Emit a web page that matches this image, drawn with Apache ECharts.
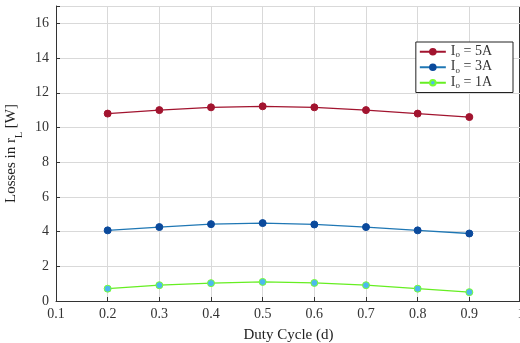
<!DOCTYPE html>
<html><head><meta charset="utf-8">
<script src="https://cdn.jsdelivr.net/npm/echarts@6/dist/echarts.min.js"></script>
<style>html,body{margin:0;padding:0;background:#fff}#c{width:520px;height:343px}</style>
</head><body><div id="c"></div>
<script>
const duty = [0.2, 0.3, 0.4, 0.5, 0.6, 0.7, 0.8, 0.9];
const loss5A = [10.8, 11.0, 11.16, 11.22, 11.16, 11.0, 10.8, 10.6];
const loss3A = [4.07, 4.26, 4.43, 4.49, 4.41, 4.26, 4.07, 3.89];
const loss1A = [0.71, 0.91, 1.03, 1.1, 1.04, 0.91, 0.71, 0.51];
const seriesNames = ['5A', '3A', '1A'];
const xTicks = [0.1, 0.2, 0.3, 0.4, 0.5, 0.6, 0.7, 0.8, 0.9, 1];

const FONT = 'Liberation Serif';
const chart = echarts.init(document.getElementById('c'), null, {renderer: 'canvas'});
function pairs(v) { return duty.map((d, i) => [d, v[i]]); }
function mk(name, data, lineColor, fill, border) {
  return {
    name: name, type: 'line', data: pairs(data), symbol: 'circle', symbolSize: 7,
    lineStyle: {color: lineColor, width: 1.3},
    itemStyle: {color: fill, borderColor: border, borderWidth: 1},
    emphasis: {disabled: true}
  };
}
chart.setOption({
  animation: false,
  textStyle: {fontFamily: FONT},
  grid: {left: 56, top: 6, width: 465, height: 295, show: false, containLabel: false, outerBoundsMode: 'none'},
  xAxis: {
    type: 'value', min: 0.1, max: 1, interval: 0.1,
    name: 'Duty Cycle (d)', nameLocation: 'middle', nameGap: 27,
    nameTextStyle: {fontFamily: FONT, fontSize: 15, color: '#222'},
    axisLine: {onZero: false, lineStyle: {color: '#333', width: 1}},
    axisTick: {inside: true, length: 4, lineStyle: {color: '#333'}},
    axisLabel: {fontFamily: FONT, fontSize: 14, color: '#333', margin: 6, hideOverlap: false,
      formatter: v => (Math.round(v * 10) / 10).toString()},
    splitLine: {show: true, lineStyle: {color: '#d9d9d9', width: 1}}
  },
  yAxis: {
    type: 'value', min: 0, max: 17, interval: 2,
    name: '{a|Losses in r}{s|L}{a| [W]}', nameLocation: 'middle', nameGap: 32,
    nameTextStyle: {fontFamily: FONT, fontSize: 15, color: '#222',
      rich: {a: {fontFamily: FONT, fontSize: 15, color: '#222', verticalAlign: 'top', lineHeight: 15},
             s: {fontFamily: FONT, fontSize: 10, color: '#222', verticalAlign: 'bottom', lineHeight: 20}}},
    axisLine: {show: true, lineStyle: {color: '#333', width: 1}},
    axisTick: {inside: true, length: 4, lineStyle: {color: '#333'}},
    axisLabel: {fontFamily: FONT, fontSize: 14, color: '#333', margin: 7,
      formatter: v => (v === 17 ? '' : v)},
    splitLine: {show: true, lineStyle: {color: '#d9d9d9', width: 1}}
  },
  legend: {
    right: 7, top: 42, orient: 'vertical', itemGap: 0, itemWidth: 26, itemHeight: 7,
    backgroundColor: '#fff', borderColor: '#222', borderWidth: 1, padding: [2, 21, 2, 3],
    formatter: n => '{a|I}{s|o}{a| = ' + n + '}',
    textStyle: {fontFamily: FONT, fontSize: 14, color: '#333',
      rich: {a: {fontFamily: FONT, fontSize: 14, color: '#333', verticalAlign: 'top', lineHeight: 12},
             s: {fontFamily: FONT, fontSize: 9, color: '#333', verticalAlign: 'bottom', lineHeight: 15.5}}},
    data: seriesNames
  },
  graphic: [
    {type: 'line', shape: {x1: 56, y1: 6.5, x2: 521, y2: 6.5}, style: {stroke: '#333', lineWidth: 1}, silent: true},
    {type: 'line', shape: {x1: 519.5, y1: 6, x2: 519.5, y2: 301}, style: {stroke: '#333', lineWidth: 1}, silent: true}
  ],
  series: [
    mk(seriesNames[0], loss5A, '#a2142f', '#a2142f', '#a2142f'),
    mk(seriesNames[1], loss3A, '#1f77b4', '#0b4a9c', '#0b4a9c'),
    mk(seriesNames[2], loss1A, '#66ee22', '#4db8ee', '#77ff33')
  ]
});
</script></body></html>
